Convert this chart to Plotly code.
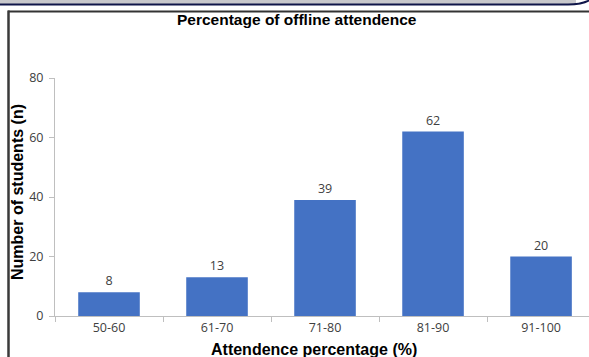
import plotly.graph_objects as go

categories = ["50-60", "61-70", "71-80", "81-90", "91-100"]
students = [8, 13, 39, 62, 20]
y_ticks = [0, 20, 40, 60, 80]

W, H = 589, 357
L, T, B = 55, 78, 41
PW, PH = W - L, H - T - B

def px(x):
    return (x - L) / PW

def py(y):
    return (H - B - y) / PH

fig = go.Figure()
fig.add_trace(go.Bar(
    x=categories, y=students,
    marker=dict(color="#4472C4", line=dict(width=0)),
    text=[str(v) for v in students], textposition="outside",
    textfont=dict(family="Open Sans", size=12.5, color="#404040"),
    cliponaxis=False, width=0.57,
))

shapes = [
    # top decorative strip
    dict(type="rect", xref="paper", yref="paper", x0=px(0), x1=px(576), y0=py(0), y1=py(4),
         fillcolor="#c8c8cc", line=dict(width=0), layer="above"),
    dict(type="path", xref="paper", yref="paper",
         path=f"M {px(0)},{py(3.6)} L {px(568)},{py(3.6)} Q {px(580)},{py(3.6)} {px(589)},{py(-0.5)} L {px(589)},{py(1.5)} Q {px(582)},{py(5.4)} {px(568)},{py(5.4)} L {px(0)},{py(5.4)} Z",
         fillcolor="#10164a", line=dict(width=0), layer="above"),
    # frame
    dict(type="line", xref="paper", yref="paper", x0=px(8), x1=px(589), y0=py(11.5), y1=py(11.5),
         line=dict(color="#333333", width=2), layer="above"),
    dict(type="line", xref="paper", yref="paper", x0=px(8.5), x1=px(8.5), y0=py(10.5), y1=py(357),
         line=dict(color="#3a3a3a", width=2.5), layer="above"),
]

annotations = [
    dict(text="<b>Percentage of offline attendence</b>", xref="paper", yref="paper",
         x=px(297), y=py(20), showarrow=False, xanchor="center", yanchor="middle",
         font=dict(family="Liberation Sans", size=15.5, color="#000000")),
    dict(text="<b>Attendence percentage (%)</b>", xref="paper", yref="paper",
         x=px(314), y=py(349), showarrow=False, xanchor="center", yanchor="middle",
         font=dict(family="Liberation Sans", size=16, color="#000000")),
    dict(text="<b>Number of students (n)</b>", xref="paper", yref="paper",
         x=px(17), y=py(192), showarrow=False, xanchor="center", yanchor="middle",
         textangle=-90, font=dict(family="Liberation Sans", size=16, color="#000000")),
]

fig.update_layout(
    width=W, height=H,
    margin=dict(l=L, r=0, t=T, b=B, pad=0),
    paper_bgcolor="white", plot_bgcolor="white",
    showlegend=False,
    shapes=shapes, annotations=annotations,
    xaxis=dict(
        type="category", range=[-0.5, 4.444],
        showline=True, linecolor="#bfbfbf", linewidth=1,
        ticks="outside", tickson="boundaries", ticklen=5, tickcolor="#bfbfbf",
        showgrid=False, zeroline=False,
        tickfont=dict(family="Open Sans", size=12.5, color="#404040"),
    ),
    yaxis=dict(
        range=[0, 80], tickvals=y_ticks,
        showline=True, linecolor="#bfbfbf", linewidth=1,
        ticks="outside", ticklen=5, tickcolor="#bfbfbf",
        showgrid=False, zeroline=False, ticklabelstandoff=3,
        tickfont=dict(family="Open Sans", size=12.5, color="#404040"),
    ),
)

fig.write_html("out.html")
